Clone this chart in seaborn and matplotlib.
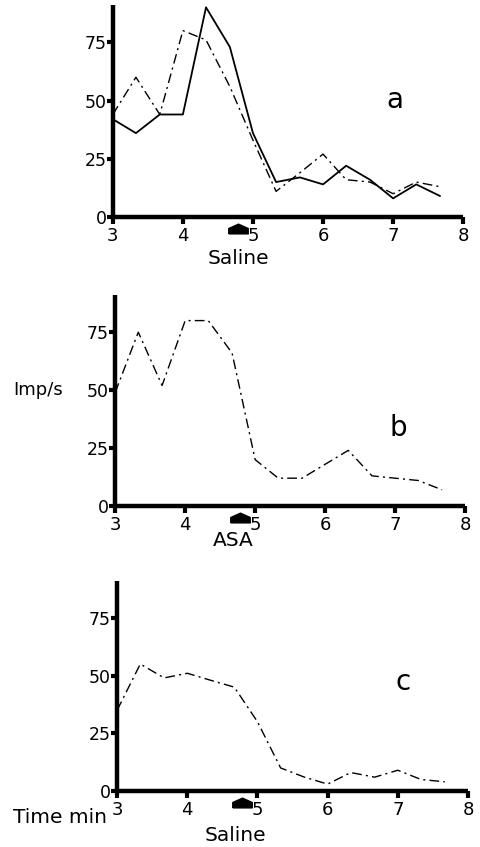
import numpy as np
import pandas as pd
import seaborn as sns
import matplotlib.pyplot as plt
from matplotlib.transforms import blended_transform_factory

# tiempo en minutos (intervalos de 20 s)
time_min = [3.0, 3.33, 3.67, 4.0, 4.33, 4.67, 5.0, 5.33, 5.67, 6.0, 6.33, 6.67, 7.0, 7.33, 7.67]

# panel a: dos registros con salino
a_solid = [42, 36, 44, 44, 90, 73, 36, 15, 17, 14, 22, 16, 8, 14, 9]
a_dashdot = [44, 60, 44, 80, 76, 56, 33, 11, 19, 27, 16, 15, 10, 15, 13]
# panel b: ASA
b_dashdot = [49, 75, 52, 80, 80, 66, 20, 12, 12, 18, 24, 13, 12, 11, 7]
# panel c: salino
c_dashdot = [35, 55, 49, 51, 48, 45, 30, 10, 6, 3, 8, 6, 9, 5, 4]

injection_time = 4.78
panel_letters = ["a", "b", "c"]
drug_labels = ["Saline", "ASA", "Saline"]
yticks = [0, 25, 50, 75]
xticks = [3, 4, 5, 6, 7, 8]

sns.set_style("ticks")
plt.rcParams["font.family"] = ["DejaVu Sans"]
plt.rcParams["text.color"] = "black"
plt.rcParams["xtick.color"] = "black"
plt.rcParams["ytick.color"] = "black"
plt.rcParams["axes.edgecolor"] = "black"

fig = plt.figure(figsize=(4.8, 8.47), dpi=100)
boxes = [
    [0.235, 0.7438, 0.730, 0.2503],
    [0.240, 0.4026, 0.729, 0.2490],
    [0.244, 0.0661, 0.731, 0.2480],
]
dashdot = (0, (7, 3, 1.5, 3))

series = [
    [("solid", a_solid), ("dashdot", a_dashdot)],
    [("dashdot", b_dashdot)],
    [("dashdot", c_dashdot)],
]
label_offsets = [-0.195, -0.165, -0.214]
label_x = [4.79, 4.68, 4.68]
letter_pos = [(0.806, 0.55), (0.809, 0.37), (0.815, 0.52)]

for i, box in enumerate(boxes):
    ax = fig.add_axes(box)
    for style, vals in series[i]:
        df = pd.DataFrame({"t": time_min, "imp": vals})
        if style == "solid":
            sns.lineplot(data=df, x="t", y="imp", ax=ax, color="black", lw=1.3)
        else:
            sns.lineplot(data=df, x="t", y="imp", ax=ax, color="black", lw=1.0,
                         linestyle=dashdot)
    ax.set_xlim(3, 8)
    ax.set_ylim(0, 91)
    ax.set_xticks(xticks)
    ax.set_yticks(yticks)
    ax.set_xlabel("")
    ax.set_ylabel("")
    for s in ["top", "right"]:
        ax.spines[s].set_visible(False)
    for s in ["left", "bottom"]:
        ax.spines[s].set_linewidth(3.2)
        ax.spines[s].set_capstyle("butt")
    ax.tick_params(axis="x", direction="out", length=5, width=3, pad=2, labelsize=13)
    ax.tick_params(axis="y", direction="out", length=4, width=3, pad=0.5, labelsize=12.5)
    ax.patch.set_alpha(0)

    # flecha de inyeccion
    tr = blended_transform_factory(ax.transData, ax.transAxes)
    house = [(-1, -0.45), (1, -0.45), (1, 0.1), (0, 0.55), (-1, 0.1), (-1, -0.45)]
    ax.plot([injection_time], [-0.055], transform=tr, marker=house, markersize=14,
            color="black", clip_on=False)
    ax.text(label_x[i], label_offsets[i], drug_labels[i], transform=tr,
            ha="center", va="center", fontsize=14.5)
    ax.text(letter_pos[i][0], letter_pos[i][1], panel_letters[i], transform=ax.transAxes,
            ha="center", va="center", fontsize=20)

fig.text(0.027, 1 - 390 / 847, "Imp/s", ha="left", va="center", fontsize=13)
fig.text(0.027, 1 - 817 / 847, "Time min", ha="left", va="center", fontsize=14.5)

fig.savefig("out.png", dpi=100)
